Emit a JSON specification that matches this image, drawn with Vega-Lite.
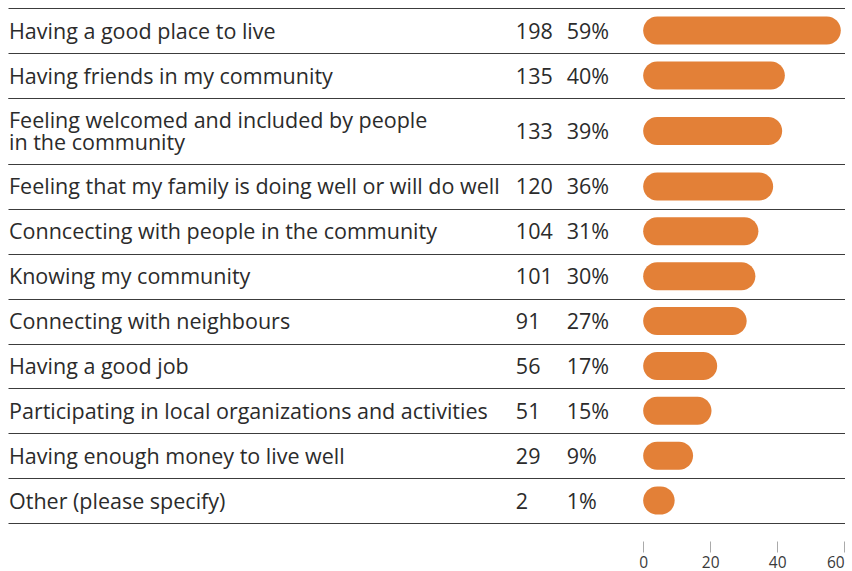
{
  "$schema": "https://vega.github.io/schema/vega-lite/v6.json",
  "autosize": {"type": "pad"},
  "padding": {"left": 8, "top": 8, "right": 0, "bottom": 0},
  "spacing": 0,
  "background": "white",
  "config": {
    "view": {"stroke": null},
    "font": "Open Sans",
    "text": {"font": "Open Sans", "fontSize": 21.5, "color": "#2b2b2b", "baseline": "middle", "align": "left"},
    "axisX": {
      "title": null,
      "orient": "bottom",
      "offset": 18,
      "tickSize": 11,
      "tickColor": "#aaaaaa",
      "tickWidth": 1,
      "domain": false,
      "grid": false,
      "labelFont": "Open Sans",
      "labelFontSize": 15.5,
      "labelColor": "#3a3a3a",
      "labelPadding": 3
    },
    "axisY": {
      "title": null,
      "labels": false,
      "ticks": false,
      "domain": false,
      "grid": true,
      "tickBand": "extent",
      "gridColor": "#3c3c3c",
      "gridWidth": 1.2
    }
  },
  "data": {
    "values": [
      {"item": "Having a good place to live", "item2": null, "count": "198", "pct": "59%", "bar": 59.0},
      {"item": "Having friends in my community", "item2": null, "count": "135", "pct": "40%", "bar": 42.3},
      {"item": "Feeling welcomed and included by people", "item2": "in the community", "count": "133", "pct": "39%", "bar": 41.5},
      {"item": "Feeling that my family is doing well or will do well", "item2": null, "count": "120", "pct": "36%", "bar": 38.8},
      {"item": "Conncecting with people in the community", "item2": null, "count": "104", "pct": "31%", "bar": 34.4},
      {"item": "Knowing my community", "item2": null, "count": "101", "pct": "30%", "bar": 33.5},
      {"item": "Connecting with neighbours", "item2": null, "count": "91", "pct": "27%", "bar": 30.9},
      {"item": "Having a good job", "item2": null, "count": "56", "pct": "17%", "bar": 22.1},
      {"item": "Participating in local organizations and activities", "item2": null, "count": "51", "pct": "15%", "bar": 20.4},
      {"item": "Having enough money to live well", "item2": null, "count": "29", "pct": "9%", "bar": 14.9},
      {"item": "Other (please specify)", "item2": null, "count": "2", "pct": "1%", "bar": 9.4}
    ]
  },
  "vconcat": [
    {
      "width": 837,
      "height": 90,
      "transform": [{"filter": {"field": "item", "oneOf": ["Having a good place to live", "Having friends in my community"]}}],
      "encoding": {
        "y": {"field": "item", "type": "nominal", "sort": null, "scale": {"paddingInner": 0, "paddingOuter": 0}}
      },
      "layer": [
        {
          "mark": {"type": "bar", "color": "#E38037", "cornerRadius": 14, "height": 28},
          "encoding": {
            "x": {"field": "bar", "type": "quantitative", "scale": {"domain": [-189.6, 60.25], "nice": false, "zero": false}, "axis": null},
            "x2": {"datum": 0}
          }
        },
        {
          "mark": {"type": "text", "dy": 2},
          "encoding": {
            "x": {"datum": -189.3, "type": "quantitative", "axis": null},
            "text": {"field": "item", "type": "nominal"}
          }
        },
        {
          "mark": {"type": "text", "dy": 2},
          "encoding": {
            "x": {"datum": -38.0, "type": "quantitative", "axis": null},
            "text": {"field": "count", "type": "nominal"}
          }
        },
        {
          "mark": {"type": "text", "dy": 2},
          "encoding": {
            "x": {"datum": -22.8, "type": "quantitative", "axis": null},
            "text": {"field": "pct", "type": "nominal"}
          }
        }
      ]
    },
    {
      "width": 837,
      "height": 66,
      "transform": [{"filter": "datum.item2 != null"}],
      "encoding": {
        "y": {"field": "item", "type": "nominal", "sort": null, "scale": {"paddingInner": 0, "paddingOuter": 0}}
      },
      "layer": [
        {
          "mark": {"type": "bar", "color": "#E38037", "cornerRadius": 14, "height": 28},
          "encoding": {
            "x": {"field": "bar", "type": "quantitative", "scale": {"domain": [-189.6, 60.25], "nice": false, "zero": false}, "axis": null},
            "x2": {"datum": 0}
          }
        },
        {
          "mark": {"type": "text", "dy": -9},
          "encoding": {
            "x": {"datum": -189.3, "type": "quantitative", "axis": null},
            "text": {"field": "item", "type": "nominal"}
          }
        },
        {
          "mark": {"type": "text", "dy": 12.5},
          "encoding": {
            "x": {"datum": -189.3, "type": "quantitative", "axis": null},
            "text": {"field": "item2", "type": "nominal"}
          }
        },
        {
          "mark": {"type": "text", "dy": 2},
          "encoding": {
            "x": {"datum": -38.0, "type": "quantitative", "axis": null},
            "text": {"field": "count", "type": "nominal"}
          }
        },
        {
          "mark": {"type": "text", "dy": 2},
          "encoding": {
            "x": {"datum": -22.8, "type": "quantitative", "axis": null},
            "text": {"field": "pct", "type": "nominal"}
          }
        }
      ]
    },
    {
      "width": 837,
      "height": 359,
      "transform": [
        {"filter": "datum.item2 == null"},
        {"filter": {"not": {"field": "item", "oneOf": ["Having a good place to live", "Having friends in my community"]}}}
      ],
      "encoding": {
        "y": {"field": "item", "type": "nominal", "sort": null, "scale": {"paddingInner": 0, "paddingOuter": 0}}
      },
      "layer": [
        {
          "mark": {"type": "bar", "color": "#E38037", "cornerRadius": 14, "height": 28},
          "encoding": {
            "x": {"field": "bar", "type": "quantitative", "scale": {"domain": [-189.6, 60.25], "nice": false, "zero": false}, "axis": {"title": null, "values": [0, 20, 40, 60]}},
            "x2": {"datum": 0}
          }
        },
        {
          "mark": {"type": "text", "dy": 2},
          "encoding": {
            "x": {"datum": -189.3, "type": "quantitative", "axis": {"title": null, "values": [0, 20, 40, 60]}},
            "text": {"field": "item", "type": "nominal"}
          }
        },
        {
          "mark": {"type": "text", "dy": 2},
          "encoding": {
            "x": {"datum": -38.0, "type": "quantitative", "axis": {"title": null, "values": [0, 20, 40, 60]}},
            "text": {"field": "count", "type": "nominal"}
          }
        },
        {
          "mark": {"type": "text", "dy": 2},
          "encoding": {
            "x": {"datum": -22.8, "type": "quantitative", "axis": {"title": null, "values": [0, 20, 40, 60]}},
            "text": {"field": "pct", "type": "nominal"}
          }
        }
      ]
    }
  ]
}
